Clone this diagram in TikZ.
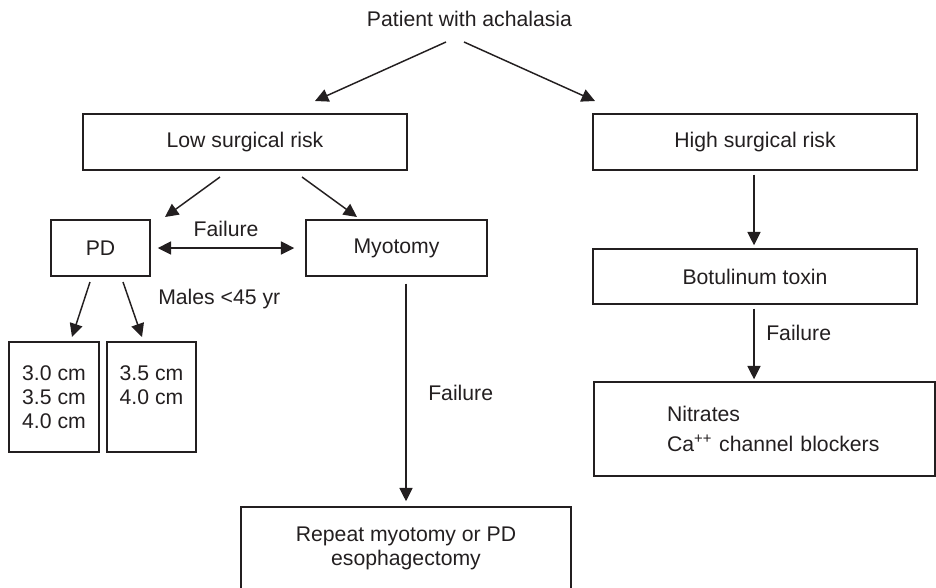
\documentclass[tikz,border=0pt]{standalone}
\usepackage{fontspec}
\setmainfont{Liberation Sans}
\usetikzlibrary{arrows.meta,calc}
\definecolor{ink}{HTML}{231F20}
\begin{document}
\begin{tikzpicture}[x=0.75pt,y=-0.75pt,
  every node/.style={font=\fontsize{15.9pt}{18pt}\selectfont, text=ink},
  box/.style={draw=ink, line width=1.1pt, inner sep=0pt, align=center},
  conn/.style={draw=ink, line width=1.1pt, -{Triangle[length=10pt,width=9.75pt]}},
  lbl/.style={inner sep=0pt}]
\clip (0,0) rectangle (936,587);
\useasboundingbox (0,0) rectangle (936,587);
% nodes
\node[lbl] (title) at (469.5,19) {Patient with achalasia};
\node[box, minimum width=243pt, minimum height=42pt] (low) at (245,142) {Low surgical risk};
\node[box, minimum width=243pt, minimum height=42pt] (high) at (755,142) {High surgical risk};
\node[box, minimum width=243pt, minimum height=41.25pt] (bot) at (755,276.5) {Botulinum toxin};
\node[box, minimum width=255.75pt, minimum height=70.5pt, text width=255.75pt, align=left] (nit) at (764.5,429)
  {\hspace*{54.75pt}Nitrates\\[4.5pt]\hspace*{54.75pt}Ca\textsuperscript{++} channel blockers};
\node[box, minimum width=74.25pt, minimum height=42pt] (pd) at (100.5,248) {PD};
\node[box, minimum width=135.75pt, minimum height=42pt] (myo) at (396.5,248) {Myotomy};
\node[box, minimum width=67.5pt, minimum height=82.5pt] (b1) at (54,397) {3.0 cm\\3.5 cm\\4.0 cm};
\node[box, minimum width=66.75pt, minimum height=82.5pt] (b2) at (151.5,397) {3.5 cm\\4.0 cm\\\phantom{4.0 cm}};
\node[box, minimum width=247.5pt, minimum height=62.25pt] (rep) at (406,548.5) {Repeat myotomy or PD\\esophagectomy};
% labels
\node[lbl] (f1) at (226,229) {Failure};
\node[lbl, anchor=west] (males) at (158,299) {Males <45 yr};
\node[lbl, anchor=west] (f2) at (428,393) {Failure};
\node[lbl, anchor=west] (f3) at (766,333) {Failure};
% free ends
\coordinate (t1) at (446,42);
\coordinate (t2) at (464,42);
\coordinate (tl) at (315,101);
\coordinate (th) at (595,101);
\coordinate (l1) at (220,177);
\coordinate (l2) at (302,177);
\coordinate (pdt) at (165,217);
\coordinate (myt) at (357,217);
\coordinate (p1) at (90,282);
\coordinate (p2) at (123,282);
\coordinate (b1t) at (72,337);
\coordinate (b2t) at (142,337);
% connectors
\draw[conn] (t1) -- (tl);
\draw[conn] (t2) -- (th);
\draw[conn] (l1) -- (pdt);
\draw[conn] (l2) -- (myt);
\draw[conn, {Triangle[length=10pt,width=9.75pt]}-{Triangle[length=10pt,width=9.75pt]}, shorten <=5.25pt, shorten >=8.25pt] (pd.east) -- (myo.west);
\draw[conn] (p1) -- (b1t);
\draw[conn] (p2) -- (b2t);
\draw[conn, shorten <=3pt, shorten >=2.25pt] ([xshift=-0.75pt]high.south) -- ([xshift=-0.75pt]bot.north);
\draw[conn, shorten <=3pt, shorten >=1.5pt] ([xshift=-0.75pt]bot.south) -- ([xshift=-0.75pt]bot.south |- nit.north);
\draw[conn, shorten <=5.25pt, shorten >=3.75pt] (rep.north |- myo.south) -- (rep.north);
\end{tikzpicture}
\end{document}
